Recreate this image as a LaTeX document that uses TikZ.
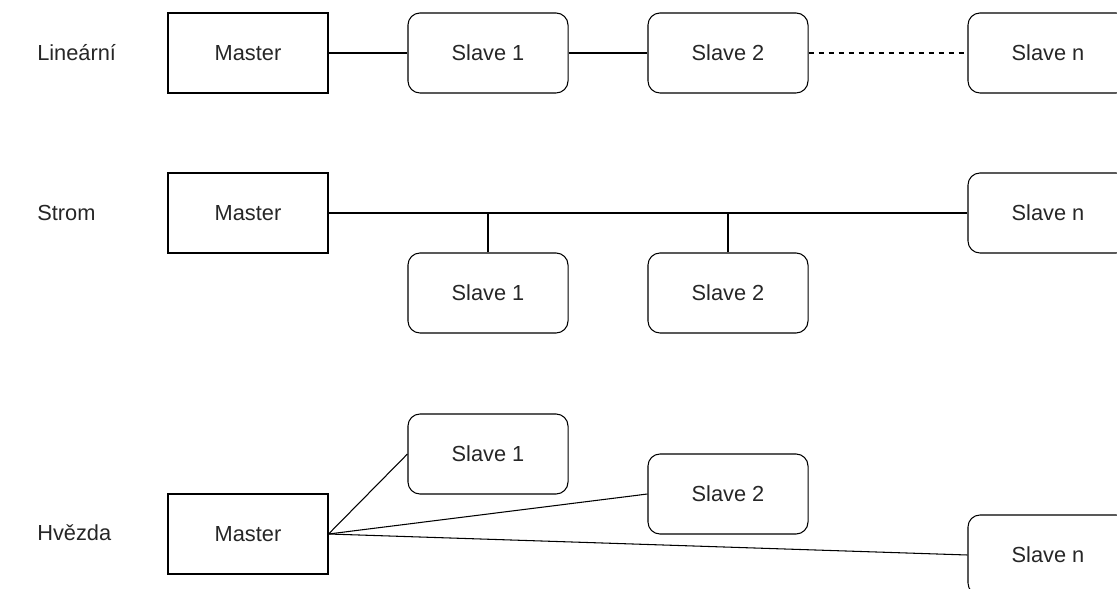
\documentclass[tikz,border=0pt]{standalone}
\usepackage{fontspec}
\setmainfont{Liberation Sans}

\begin{document}
\begin{tikzpicture}[x=0.025cm,y=-0.025cm,
    master/.style={rectangle,draw,line width=0.75pt,minimum width=4cm,minimum height=2cm,text=black!85,font=\fontsize{15.5}{18}\selectfont},
    slave/.style={master,rounded corners=0.3cm},
    title/.style={anchor=west,inner sep=0pt,text=black!85,font=\fontsize{15.5}{18}\selectfont},
    link/.style={line width=0.75pt}]
    \clip (0,0) rectangle (1117,589);
    % linearni
    \node[title] at (37,53) (t1) {Lineární};
    \node[master] at (248,53) (m1) {Master};
    \node[slave] at (488,53) (s11) {Slave 1};
    \node[slave] at (728,53) (s12) {Slave 2};
    \node[slave] at (1048,53) (s1n) {Slave n};
    \draw[link] (m1) -- (s11);
    \draw[link] (s11) -- (s12);
    \draw[link,dash pattern=on 0.14cm off 0.11cm] (s12) -- (s1n);
    % strom
    \node[title] at (37,213) (t2) {Strom};
    \node[master] at (248,213) (m2) {Master};
    \node[slave] at (488,293) (s21) {Slave 1};
    \node[slave] at (728,293) (s22) {Slave 2};
    \node[slave] at (1048,213) (s2n) {Slave n};
    \draw[link] (m2) -- (s2n);
    \draw[link] (s21.north) -- (s21.north |- m2.east);
    \draw[link] (s22.north) -- (s22.north |- m2.east);
    % hvezda
    \node[title] at (37,533) (t3) {Hvězda};
    \node[master] at (248,534) (m3) {Master};
    \node[slave] at (488,454) (s31) {Slave 1};
    \node[slave] at (728,494) (s32) {Slave 2};
    \node[slave] at (1048,555) (s3n) {Slave n};
    \draw[link] (m3.east) -- (s31.west);
    \draw[link] (m3.east) -- (s32.west);
    \draw[link] (m3.east) -- (s3n.west);
\end{tikzpicture}
\end{document}
